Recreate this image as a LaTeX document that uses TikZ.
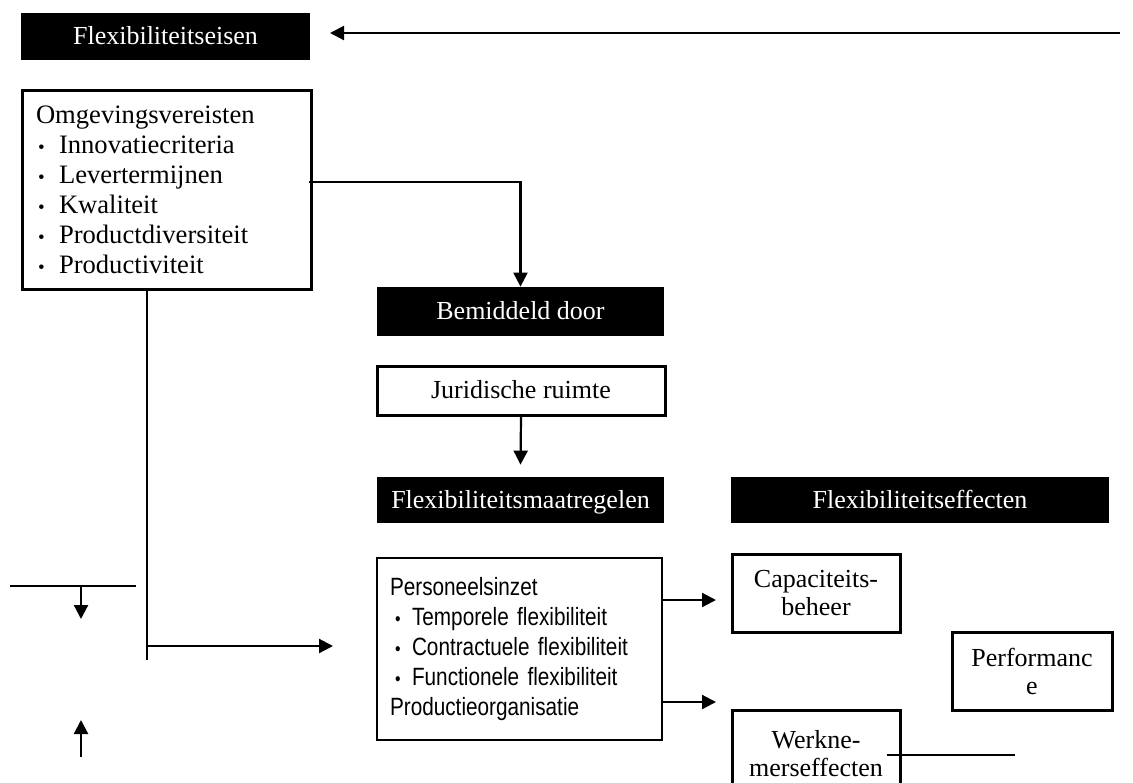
\documentclass[tikz,border=0pt]{standalone}
\usepackage{fontspec}
\usepackage{tikz}
\usetikzlibrary{arrows.meta}
\setmainfont{Liberation Serif}
\newfontfamily\arialn[FakeStretch=0.83,WordSpace=0.6]{Liberation Sans}

\newcommand{\sblt}{\makebox[11.5pt][l]{\hspace{1pt}{\fontsize{9.5}{9.5}\selectfont\textbullet}}}
\newcommand{\pblt}{\makebox[11pt][l]{\hspace{2.5pt}{\fontsize{9.5}{9.5}\selectfont\textbullet}}}

\tikzset{
    headbox/.style={fill=black,text=white,inner sep=0pt,text height=10pt,text depth=2pt,font=\fontsize{13}{15}\selectfont},
    framebox/.style={draw,line width=1.5pt,inner sep=0pt,align=center,font=\fontsize{13}{14}\selectfont},
    conn/.style={line width=1.1pt},
    arr/.style={conn,-{Triangle[length=7pt,width=7pt]}}
}

\begin{document}
\begin{tikzpicture}[x=0.5pt,y=-0.5pt]
        \useasboundingbox (0,0) rectangle (1133,782);
        \node[headbox,minimum width=144.5pt,minimum height=23.5pt] (eisen) at (165.5,36.5) {Flexibiliteitseisen};
        \node[framebox,minimum width=144.5pt,minimum height=99.5pt,text width=130.5pt,inner xsep=7pt,align=left,font=\fontsize{13.3}{15}\selectfont] (omg) at (166.5,189.5)
            {Omgevingsvereisten\\ \sblt Innovatiecriteria\\ \sblt Levertermijnen\\ \sblt Kwaliteit\\ \sblt Productdiversiteit\\ \sblt Productiviteit};
        \node[headbox,minimum width=143.5pt,minimum height=24.5pt] (bemid) at (520.5,311.5) {Bemiddeld door};
        \node[framebox,minimum width=144pt,minimum height=24.5pt,text height=10pt,text depth=2pt] (jur) at (521,390.5) {Juridische ruimte};
        \node[headbox,minimum width=143.5pt,minimum height=23pt] (maat) at (520.5,500) {Flexibiliteitsmaatregelen};
        \node[headbox,minimum width=189pt,minimum height=23pt] (effect) at (920,500) {Flexibiliteitseffecten};
        \node[draw,line width=1pt,inner sep=0pt,minimum width=142.5pt,minimum height=91pt,text width=129.5pt,inner xsep=6.5pt,align=left,font=\arialn\fontsize{12.5}{15}\selectfont] (pers) at (519.5,649)
            {Personeelsinzet\\ \pblt Temporele flexibiliteit\\ \pblt Contractuele flexibiliteit\\ \pblt Functionele flexibiliteit\\ Productieorganisatie};
        \node[framebox,minimum width=84pt,minimum height=39pt] (cap) at (816,593) {Capaciteits-\\beheer};
        \node[framebox,minimum width=80pt,minimum height=39pt] (perf) at (1032,671) {Performanc\\e};
        \node[framebox,minimum width=84pt,minimum height=43.5pt] (werk) at (816,753.5) {Werkne-\\merseffecten};

        \coordinate (topR) at (1120,33);
        \coordinate (topL) at (330,33);
        \draw[arr] (topR) -- (topL);
        \draw[arr] ([xshift=-2pt,yshift=3.75pt]omg.east) -| (bemid.north);
        \draw[arr] (jur.south) -- ([yshift=6pt]maat.north);

        \coordinate (stemtop) at ([xshift=-9.75pt]omg.south);
        \coordinate (stembot) at (147,660);
        \coordinate (fork) at (147,646);
        \draw[conn] (stemtop) -- (stembot);
        \draw[arr] (fork) -- ([xshift=-21.5pt]pers.west |- fork);

        \draw[arr] (pers.east |- 0,600) -- +(26.5pt,0);
        \draw[arr] (pers.east |- 0,702) -- +(26.5pt,0);

        \coordinate (barL) at (10,586);
        \coordinate (barR) at (136,586);
        \coordinate (barM) at (81,586);
        \coordinate (dropend) at (81,619);
        \coordinate (risefoot) at (81,757);
        \coordinate (risetip) at (81,720);
        \draw[conn] (barL) -- (barR);
        \draw[arr] (barM) -- (dropend);
        \draw[arr] (risefoot) -- (risetip);

        \draw[conn] ([xshift=-7.5pt,yshift=-0.75pt]werk.east) -- ++(64pt,0);
\end{tikzpicture}
\end{document}
